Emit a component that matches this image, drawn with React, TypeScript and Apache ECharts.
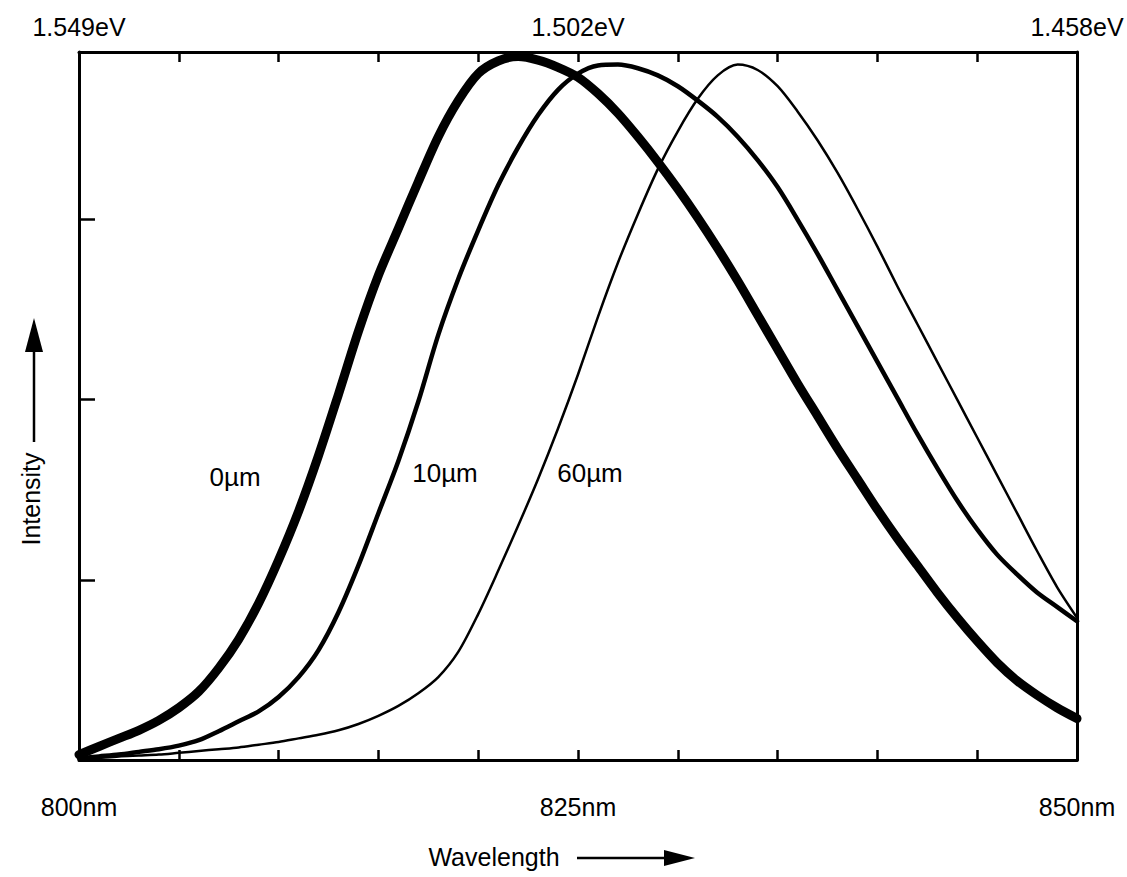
import React, { useEffect, useRef } from "react";
import * as echarts from "echarts";

// wavelength (nm) tick labels, bottom and top (photon energy)
const labelWavelengths = [800, 825, 850];
const nmLabels = ["800nm", "825nm", "850nm"];
const evLabels = ["1.549eV", "1.502eV", "1.458eV"];

const curveNames = ["0µm", "10µm", "60µm"];

// wavelengths sampled (nm), 800..850
const wavelengths = [
  800, 801, 802, 803, 804, 805, 806, 807, 808, 809,
  810, 811, 812, 813, 814, 815, 816, 817, 818, 819,
  820, 821, 822, 823, 824, 825, 826, 827, 828, 829,
  830, 831, 832, 833, 834, 835, 836, 837, 838, 839,
  840, 841, 842, 843, 844, 845, 846, 847, 848, 849,
  850,
];

// intensity (a.u.)
const intensity0um = [
  0.03, 0.075, 0.12, 0.165, 0.22, 0.29, 0.38, 0.51, 0.67, 0.87,
  1.11, 1.38, 1.69, 2.03, 2.38, 2.69, 2.95, 3.21, 3.46, 3.66,
  3.81, 3.88, 3.905, 3.885, 3.845, 3.79, 3.70, 3.59, 3.46, 3.32,
  3.17, 3.01, 2.84, 2.66, 2.47, 2.28, 2.09, 1.91, 1.73, 1.56,
  1.39, 1.23, 1.08, 0.93, 0.79, 0.66, 0.54, 0.44, 0.36, 0.29,
  0.23,
];

const intensity10um = [
  0.01, 0.02, 0.03, 0.045, 0.06, 0.08, 0.11, 0.16, 0.215, 0.27,
  0.35, 0.46, 0.61, 0.82, 1.08, 1.37, 1.66, 1.99, 2.36, 2.67,
  2.94, 3.19, 3.40, 3.58, 3.72, 3.81, 3.855, 3.86, 3.84, 3.80,
  3.74, 3.66, 3.57, 3.46, 3.33, 3.18, 3.00, 2.81, 2.61, 2.41,
  2.21, 2.01, 1.81, 1.62, 1.44, 1.28, 1.14, 1.03, 0.93, 0.85,
  0.77,
];

const intensity60um = [
  0.0, 0.01, 0.02, 0.025, 0.03, 0.04, 0.05, 0.06, 0.07, 0.085,
  0.10, 0.12, 0.14, 0.165, 0.20, 0.245, 0.30, 0.37, 0.46, 0.60,
  0.81, 1.05, 1.30, 1.56, 1.84, 2.14, 2.46, 2.76, 3.03, 3.28,
  3.49, 3.67, 3.80, 3.86, 3.83, 3.74, 3.60, 3.44, 3.26, 3.06,
  2.85, 2.63, 2.42, 2.21, 2.00, 1.79, 1.58, 1.37, 1.16, 0.96,
  0.79,
];

const FONT = "'Liberation Sans', Arial, Helvetica, sans-serif";

export default function App() {
  const ref = useRef<HTMLDivElement>(null);

  useEffect(() => {
    if (!ref.current) return;
    const chart = echarts.init(ref.current, undefined, { renderer: "svg" });

    const labelFor = (arr: string[]) => (v: number) => {
      const i = labelWavelengths.findIndex((w) => Math.abs(v - w) < 1e-6);
      return i >= 0 ? arr[i] : "";
    };

    const frameLine = { show: true, onZero: false, lineStyle: { color: "#000", width: 3 } };
    const tickStyle = { color: "#000", width: 2.5 };

    const toPairs = (ys: number[]) => wavelengths.map((x, i) => [x, ys[i]]);

    const lineSeries = (ys: number[], width: number, name: string) => ({
      type: "line",
      name,
      data: toPairs(ys),
      smooth: 0.3,
      showSymbol: false,
      symbol: "none",
      clip: false,
      lineStyle: { color: "#000", width, cap: "round", join: "round" },
      xAxisIndex: 0,
      yAxisIndex: 0,
      z: 3,
    });

    chart.setOption({
      animation: false,
      backgroundColor: "#fff",
      grid: { left: 79, right: 50, top: 52, bottom: 117 },
      xAxis: [
        {
          type: "value",
          position: "bottom",
          min: 800,
          max: 850,
          interval: 5,
          axisLine: frameLine,
          axisTick: { show: true, inside: true, length: 10, lineStyle: tickStyle },
          axisLabel: {
            show: true,
            formatter: labelFor(nmLabels),
            color: "#000",
            fontFamily: FONT,
            fontSize: 25,
            margin: 34,
            showMinLabel: true,
            showMaxLabel: true,
          },
          splitLine: { show: false },
        },
        {
          type: "value",
          position: "top",
          min: 800,
          max: 850,
          interval: 5,
          axisLine: frameLine,
          axisTick: { show: true, inside: true, length: 10, lineStyle: tickStyle },
          axisLabel: {
            show: true,
            formatter: labelFor(evLabels),
            color: "#000",
            fontFamily: FONT,
            fontSize: 25,
            margin: 13,
            showMinLabel: true,
            showMaxLabel: true,
          },
          splitLine: { show: false },
        },
      ],
      yAxis: [
        {
          type: "value",
          position: "left",
          min: 0,
          max: 3.93,
          interval: 1,
          axisLine: frameLine,
          axisTick: { show: true, inside: true, length: 16, lineStyle: tickStyle },
          axisLabel: { show: false },
          splitLine: { show: false },
        },
        {
          type: "value",
          position: "right",
          min: 0,
          max: 3.93,
          interval: 1,
          axisLine: frameLine,
          axisTick: { show: false },
          axisLabel: { show: false },
          splitLine: { show: false },
        },
      ],
      series: [
        lineSeries(intensity0um, 9, curveNames[0]),
        lineSeries(intensity10um, 4.5, curveNames[1]),
        lineSeries(intensity60um, 2.5, curveNames[2]),
      ],
      graphic: [
        { type: "text", x: 235, y: 477, style: { text: curveNames[0], font: `26px ${FONT}`, fill: "#000", align: "center", verticalAlign: "middle" } },
        { type: "text", x: 445, y: 473, style: { text: curveNames[1], font: `26px ${FONT}`, fill: "#000", align: "center", verticalAlign: "middle" } },
        { type: "text", x: 590, y: 473, style: { text: curveNames[2], font: `26px ${FONT}`, fill: "#000", align: "center", verticalAlign: "middle" } },
        // Wavelength axis title with arrow
        { type: "text", x: 494, y: 857, style: { text: "Wavelength", font: `25px ${FONT}`, fill: "#000", align: "center", verticalAlign: "middle" } },
        { type: "line", shape: { x1: 577, y1: 858, x2: 668, y2: 858 }, style: { stroke: "#000", lineWidth: 2.5 } },
        { type: "polygon", shape: { points: [[664, 850], [664, 866], [695, 858]] }, style: { fill: "#000" } },
        // Intensity axis title with arrow
        { type: "text", x: 31, y: 499, rotation: Math.PI / 2, style: { text: "Intensity", font: `25px ${FONT}`, fill: "#000", align: "center", verticalAlign: "middle" } },
        { type: "line", shape: { x1: 34, y1: 442, x2: 34, y2: 345 }, style: { stroke: "#000", lineWidth: 2.5 } },
        { type: "polygon", shape: { points: [[25, 352], [43, 352], [34, 318]] }, style: { fill: "#000" } },
      ],
    });

    return () => chart.dispose();
  }, []);

  return (
    <div
      ref={ref}
      style={{ position: "fixed", left: 0, top: 0, width: 1127, height: 877, background: "#fff" }}
    />
  );
}
